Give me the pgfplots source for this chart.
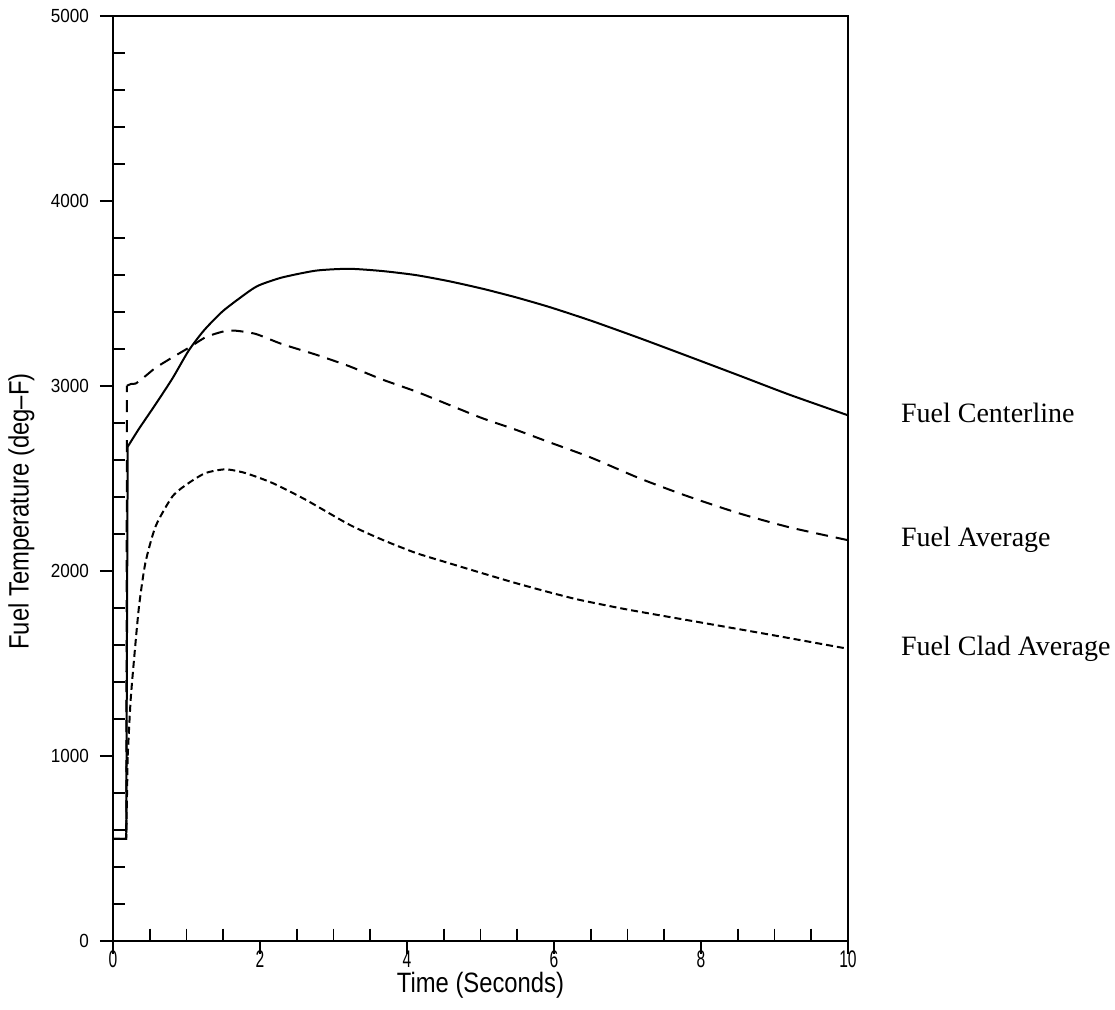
\documentclass[border=0pt]{standalone}
\usepackage{fontspec}
\usepackage{pgfplots}
\pgfplotsset{compat=1.18}
\setmainfont{Liberation Serif}
\newfontfamily\labfont[FakeStretch=0.85]{Liberation Sans}
\newfontfamily\xtfont[FakeStretch=0.65]{Liberation Sans}
\newfontfamily\ytfont[FakeStretch=0.9]{Liberation Sans}
\begin{document}
\begin{tikzpicture}
\path[use as bounding box] (-56.5pt,-34.15pt) rectangle (501pt,470.35pt);
\begin{axis}[
 at={(0,0)}, anchor=south west, scale only axis,
 width=367.5pt, height=462.5pt,
 xmin=0, xmax=10, ymin=0, ymax=5000,
 xtick={0,2,...,10}, ytick={0,1000,...,5000},
 minor x tick num=3, minor y tick num=4,
 tick pos=left, tick align=outside,
 major tick length=6.5pt, minor tick length=-6pt,
 axis line style={line width=1.2pt},
 every tick/.style={black, line width=0.9pt},
 /pgf/number format/assume math mode=true,
 /pgf/number format/1000 sep={},
 xticklabel style={font=\xtfont\fontsize{12}{13}\selectfont, inner sep=0pt, yshift=1.5pt},
 yticklabel style={font=\ytfont\fontsize{9.5}{10}\selectfont, xshift=-2pt},
 xlabel={Time (Seconds)},
 ylabel={Fuel Temperature (deg\textendash F)},
 xlabel style={font=\labfont\fontsize{14}{16}\selectfont, inner sep=0pt, at={(axis description cs:0.5,-0.056)}, anchor=base},
 ylabel style={font=\labfont\fontsize{14}{16}\selectfont, at={(axis description cs:-0.1245,0.464)}, anchor=center},
 clip=false,
]
% Fuel Centerline
\addplot[black, line width=1pt] coordinates {(0,550) (0.18,550) (0.20,2670)};
\addplot[black, line width=1pt, smooth, tension=0.4] coordinates {
(0.20,2670) (0.35,2765) (0.58,2900) (0.81,3040) (1.03,3190)
(1.24,3300) (1.5,3405) (1.85,3510) (2.0,3545) (2.30,3585) (2.76,3622) (3.21,3632)
(3.66,3620) (4.12,3598) (4.57,3565) (5.02,3525) (5.48,3478) (5.94,3425) (6.5,3352)
(7.16,3258) (7.8,3163) (8.52,3055) (9.2,2952) (10,2840)
};
% Fuel Average
\addplot[black, line width=1pt, dash pattern=on 6pt off 4pt] coordinates {(0,550) (0.18,550) (0.19,3000)};
\addplot[black, line width=1pt, dash pattern=on 6pt off 4pt, smooth, tension=0.4] coordinates {
(0.19,3000) (0.25,3010) (0.31,3012) (0.45,3055) (0.58,3097)
(0.80,3151) (1.03,3205) (1.26,3262) (1.49,3292) (1.65,3298) (1.94,3280) (2.30,3225)
(2.76,3168) (3.21,3106) (3.66,3034) (4.12,2969) (4.57,2897) (5.02,2825) (5.48,2762)
(5.94,2694) (6.5,2612) (7.16,2500) (7.8,2405) (8.52,2310) (9.2,2235) (10,2165)
};
% Fuel Clad Average
\addplot[black, line width=1pt, dash pattern=on 3.5pt off 2pt] coordinates {(0,550) (0.18,550) (0.20,1000)};
\addplot[black, line width=1pt, dash pattern=on 3.5pt off 2pt, smooth, tension=0.4] coordinates {
(0.20,1000) (0.24,1300) (0.29,1537) (0.354,1807) (0.44,2041)
(0.58,2240) (0.81,2402) (1.03,2474) (1.26,2528) (1.53,2548) (1.80,2528) (2.17,2474)
(2.62,2384) (3.21,2250) (3.66,2168) (4.12,2096) (4.57,2041) (5.02,1987) (5.48,1933)
(5.94,1883) (6.34,1843) (7.0,1790) (8.0,1720) (9.0,1650) (10,1578)
};
\node[anchor=base west, font=\fontsize{14}{16}\selectfont] at (axis cs:10.626,2800) {Fuel Centerline};
\node[anchor=base west, font=\fontsize{14}{16}\selectfont] at (axis cs:10.626,2131) {Fuel Average};
\node[anchor=base west, font=\fontsize{14}{16}\selectfont] at (axis cs:10.626,1540) {Fuel Clad Average};
\end{axis}
\end{tikzpicture}
\end{document}
